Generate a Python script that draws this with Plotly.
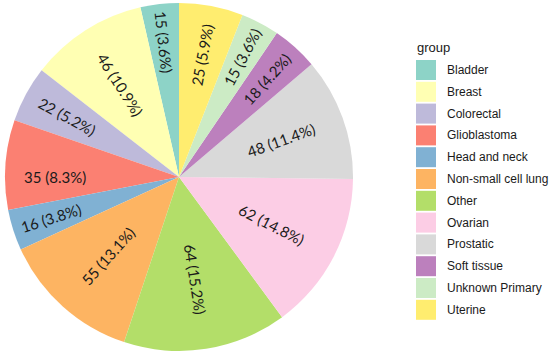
import plotly.graph_objects as go

groups = ["Bladder", "Breast", "Colorectal", "Glioblastoma", "Head and neck",
          "Non-small cell lung", "Other", "Ovarian", "Prostatic", "Soft tissue",
          "Unknown Primary", "Uterine"]
counts = [15, 46, 22, 35, 16, 55, 64, 62, 48, 18, 15, 25]
pct_labels = ["3.6%", "10.9%", "5.2%", "8.3%", "3.8%", "13.1%",
              "15.2%", "14.8%", "11.4%", "4.2%", "3.6%", "5.9%"]
colors = ["#8DD3C7", "#FFFFB3", "#BEBADA", "#FB8072", "#80B1D3", "#FDB462",
          "#B3DE69", "#FCCDE5", "#D9D9D9", "#BC80BD", "#CCEBC5", "#FFED6F"]
legend_title = "group"

W, H = 550, 357
total = sum(counts)

fig = go.Figure(go.Pie(
    labels=groups,
    values=counts,
    customdata=pct_labels,
    sort=False,
    direction="counterclockwise",
    # first slice must begin at 12 o'clock and run counterclockwise
    rotation=-counts[0] / total * 360,
    marker=dict(colors=colors, line=dict(width=0)),
    texttemplate="%{value} (%{customdata})",
    textposition="inside",
    insidetextorientation="radial",
    textfont=dict(family="Lato", size=15, color="#1a1a1a"),
    domain=dict(x=[5 / W, 353 / W], y=[1 - 351 / H, 1 - 3 / H]),
    hoverinfo="label+value",
    showlegend=False,
))

# manual legend (ggplot-like, 20px keys)
shapes = []
annotations = [dict(
    x=415 / W, y=1 - 48 / H, xref="paper", yref="paper",
    xanchor="left", yanchor="middle", showarrow=False,
    text=legend_title, font=dict(family="Liberation Sans", size=13, color="#1a1a1a"),
)]
key_left, key_size, key_top, pitch = 416, 20, 60, 21.8
for i, (g, c) in enumerate(zip(groups, colors)):
    top = key_top + pitch * i
    shapes.append(dict(
        type="rect", xref="paper", yref="paper",
        x0=key_left / W, x1=(key_left + key_size) / W,
        y0=1 - (top + key_size) / H, y1=1 - top / H,
        fillcolor=c, line=dict(width=0), layer="above",
    ))
    annotations.append(dict(
        x=445 / W, y=1 - (top + key_size / 2) / H, xref="paper", yref="paper",
        xanchor="left", yanchor="middle", showarrow=False,
        text=g, font=dict(family="Liberation Sans", size=12, color="#1a1a1a"),
    ))

fig.update_layout(
    width=W, height=H,
    margin=dict(l=0, r=0, t=0, b=0),
    paper_bgcolor="white",
    shapes=shapes,
    annotations=annotations,
)

fig.write_html(
    "out.html",
    config={"displayModeBar": False},
    post_script="document.body.style.margin='0';document.body.style.overflow='hidden';",
)
